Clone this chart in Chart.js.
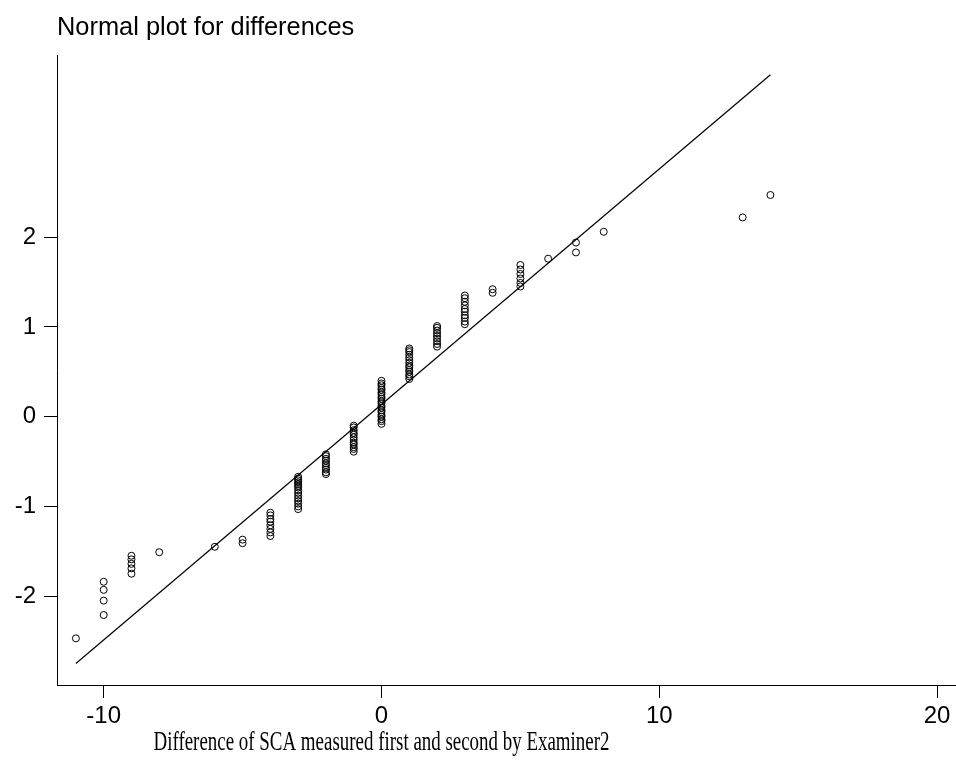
<!DOCTYPE html>
<html>
<head>
<meta charset="utf-8">
<script src="https://cdn.jsdelivr.net/npm/chart.js@4"></script>
<style>
  body { margin: 0; background: #fff; }
  canvas { display: block; }
</style>
</head>
<body>
<canvas id="normalPlot" width="956" height="760"></canvas>
<script>
// distinct differences and the normal scores read for each of them
const differences = [-11, -10, -9, -8, -6, -5, -4, -3, -2, -1, 0, 1, 2, 3, 4, 5, 6, 7, 8, 13, 14];
const normalScores = [
    [-2.47],
    [-2.21, -2.05, -1.93, -1.84],
    [-1.75, -1.69, -1.64, -1.59, -1.55],
    [-1.51],
    [-1.45],
    [-1.41, -1.37],
    [-1.33, -1.29, -1.25, -1.21, -1.17, -1.14, -1.10, -1.07],
    [-1.03, -1.00, -0.97, -0.94, -0.91, -0.88, -0.85, -0.82, -0.79, -0.77, -0.75, -0.73, -0.71, -0.69, -0.67],
    [-0.64, -0.62, -0.59, -0.57, -0.54, -0.52, -0.49, -0.47, -0.44, -0.42],
    [-0.39, -0.36, -0.34, -0.31, -0.29, -0.26, -0.23, -0.20, -0.18, -0.15, -0.12, -0.10],
    [-0.08, -0.05, -0.03, 0.00, 0.02, 0.05, 0.07, 0.10, 0.12, 0.15, 0.17, 0.20, 0.22, 0.25, 0.27, 0.30, 0.32, 0.35, 0.37, 0.40],
    [0.42, 0.45, 0.47, 0.50, 0.52, 0.55, 0.57, 0.60, 0.63, 0.66, 0.69, 0.72, 0.74, 0.76],
    [0.78, 0.81, 0.84, 0.87, 0.90, 0.93, 0.96, 0.99, 1.01],
    [1.03, 1.06, 1.10, 1.13, 1.17, 1.20, 1.24, 1.28, 1.32, 1.35],
    [1.38, 1.42],
    [1.45, 1.49, 1.54, 1.59, 1.64, 1.69],
    [1.76],
    [1.83, 1.94],
    [2.06],
    [2.22],
    [2.47]
];

// fitted reference line, end points
const fitX = [-11, 14];
const fitY = [-2.75, 3.81];

const xTicks = [-10, 0, 10, 20];
const yTicks = [-2, -1, 0, 1, 2];

const titleText = 'Normal plot for differences';
const xTitleText = 'Difference of SCA measured first and second by Examiner2';

const points = [];
differences.forEach((d, i) => {
    normalScores[i].forEach(s => points.push({ x: d, y: s }));
});
const fitLine = fitX.map((x, i) => ({ x: x, y: fitY[i] }));

const textPlugin = {
    id: 'texts',
    afterDraw(chart) {
        const ctx = chart.ctx;
        const area = chart.chartArea;
        ctx.save();
        ctx.fillStyle = '#000';
        ctx.textBaseline = 'middle';
        ctx.font = '25.4px "Liberation Sans", Arial, sans-serif';
        ctx.textAlign = 'left';
        ctx.fillText(titleText, area.left, 28);

        // axis title: tall, narrow serif, centred under zero
        ctx.font = '27px "Liberation Serif", "Times New Roman", serif';
        ctx.textAlign = 'center';
        ctx.textBaseline = 'alphabetic';
        const squeeze = 456 / ctx.measureText(xTitleText).width;
        ctx.translate(chart.scales.x.getPixelForValue(0), 750);
        ctx.scale(squeeze, 1);
        ctx.fillText(xTitleText, 0, 0);
        ctx.restore();
    }
};

const axisGrid = {
    drawOnChartArea: false,
    drawTicks: true,
    tickLength: 13,
    color: '#000',
    lineWidth: 1
};

new Chart(document.getElementById('normalPlot').getContext('2d'), {
    type: 'scatter',
    data: {
        datasets: [{
            label: 'fit',
            data: fitLine,
            showLine: true,
            borderColor: '#000',
            borderWidth: 1.2,
            pointRadius: 0,
            fill: false
        }, {
            label: 'differences',
            data: points,
            pointStyle: 'circle',
            pointRadius: 3.5,
            borderWidth: 1,
            borderColor: '#000',
            backgroundColor: 'rgba(0,0,0,0)'
        }]
    },
    options: {
        responsive: false,
        animation: false,
        devicePixelRatio: 1,
        layout: { autoPadding: false, padding: { top: 55, left: 0, right: 0, bottom: 0 } },
        plugins: {
            legend: { display: false },
            tooltip: { enabled: false },
            title: { display: false }
        },
        scales: {
            x: {
                type: 'linear',
                min: -11.68,
                max: 20.68,
                grid: axisGrid,
                border: { display: true, color: '#000', width: 1 },
                afterBuildTicks: s => { s.ticks = xTicks.map(v => ({ value: v })); },
                afterFit: s => { s.height = 75; s.paddingLeft = 0; s.paddingRight = 0; },
                ticks: {
                    color: '#000',
                    padding: 4,
                    maxRotation: 0,
                    font: { family: '"Liberation Sans", Arial, sans-serif', size: 24 }
                }
            },
            y: {
                type: 'linear',
                min: -2.99,
                max: 4.03,
                grid: axisGrid,
                border: { display: true, color: '#000', width: 1 },
                afterBuildTicks: s => { s.ticks = yTicks.map(v => ({ value: v })); },
                afterFit: s => { s.width = 57; s.paddingTop = 0; s.paddingBottom = 0; },
                ticks: {
                    color: '#000',
                    padding: 8,
                    font: { family: '"Liberation Sans", Arial, sans-serif', size: 24 }
                }
            }
        }
    },
    plugins: [textPlugin]
});
</script>
</body>
</html>
